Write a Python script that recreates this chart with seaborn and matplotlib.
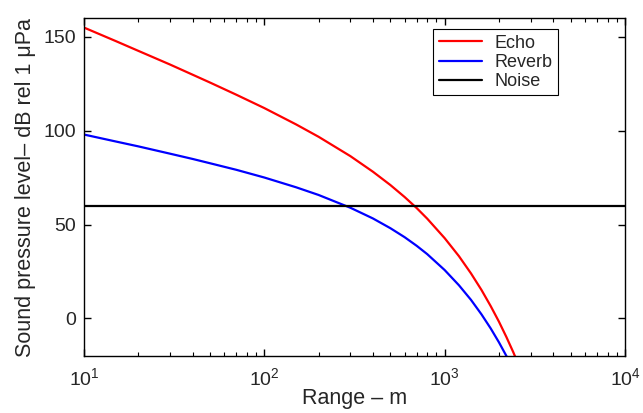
import matplotlib
matplotlib.use("Agg")
import matplotlib.pyplot as plt
import seaborn as sns
import pandas as pd

# Values
range_m = [10, 15, 20, 30, 40, 50, 70, 100, 150, 200, 300, 400, 500, 600,
           700, 800, 1000, 1200, 1400, 1600, 1800, 2000, 2200, 2400, 2600]
echo_db = [155.0, 147.8, 142.6, 135.3, 129.9, 125.7, 119.2, 112.1, 103.4, 96.8,
           86.5, 78.2, 71.1, 64.7, 58.8, 53.2, 42.8, 33.2, 24.0, 15.2, 6.6,
           -1.7, -9.9, -17.9, -25.8]
reverb_db = [98.0, 94.3, 91.7, 87.8, 85.0, 82.7, 79.2, 75.1, 69.9, 65.8, 59.0,
             53.3, 48.1, 43.3, 38.7, 34.3, 25.8, 17.7, 9.9, 2.2, -5.3, -12.7,
             -20.0, -27.3, -34.6]
noise_range = [10, 10000]
noise_db = [60, 60]

sns.set_style("white")
plt.rcParams['font.family'] = ['Liberation Sans', 'DejaVu Sans']
plt.rcParams['mathtext.fontset'] = 'custom'
plt.rcParams['mathtext.rm'] = 'Liberation Sans'
plt.rcParams['mathtext.it'] = 'Liberation Sans'

fig = plt.figure(figsize=(6.43, 4.13), dpi=100)
ax = fig.add_axes([0.1306, 0.138, 0.8414, 0.818])

echo = pd.DataFrame({"range": range_m, "level": echo_db})
reverb = pd.DataFrame({"range": range_m, "level": reverb_db})
noise = pd.DataFrame({"range": noise_range, "level": noise_db})

sns.lineplot(data=echo, x="range", y="level", color="#ff0000", lw=1.6, ax=ax, label="Echo")
sns.lineplot(data=reverb, x="range", y="level", color="#0000ff", lw=1.6, ax=ax, label="Reverb")
sns.lineplot(data=noise, x="range", y="level", color="black", lw=1.6, ax=ax, label="Noise")

ax.set_xscale("log")
ax.set_xlim(10, 10000)
ax.set_ylim(-20, 160)
ax.set_yticks([0, 50, 100, 150])
ax.set_xlabel("Range – m", fontsize=15.5, labelpad=-1)
ax.set_ylabel("Sound pressure level– dB rel 1 μPa", fontsize=15.5, labelpad=5)

ax.tick_params(which="both", direction="in", bottom=True, left=True, top=True, right=True,
               color="black", labelsize=14)
ax.tick_params(which="major", length=5, width=1.0)
ax.tick_params(which="minor", length=3, width=0.8)
ax.tick_params(axis="x", which="major", pad=8)
ax.tick_params(axis="y", which="major", pad=6)
for s in ax.spines.values():
    s.set_color("black")
    s.set_linewidth(1.0)

leg = ax.legend(loc="upper right", bbox_to_anchor=(0.876, 0.967), borderaxespad=0,
                fontsize=13, fancybox=False, framealpha=1, edgecolor="black",
                handlelength=2.4, handletextpad=0.7, borderpad=0.3, labelspacing=0.12)
leg.get_frame().set_linewidth(0.8)

fig.savefig("out.png", dpi=100)
